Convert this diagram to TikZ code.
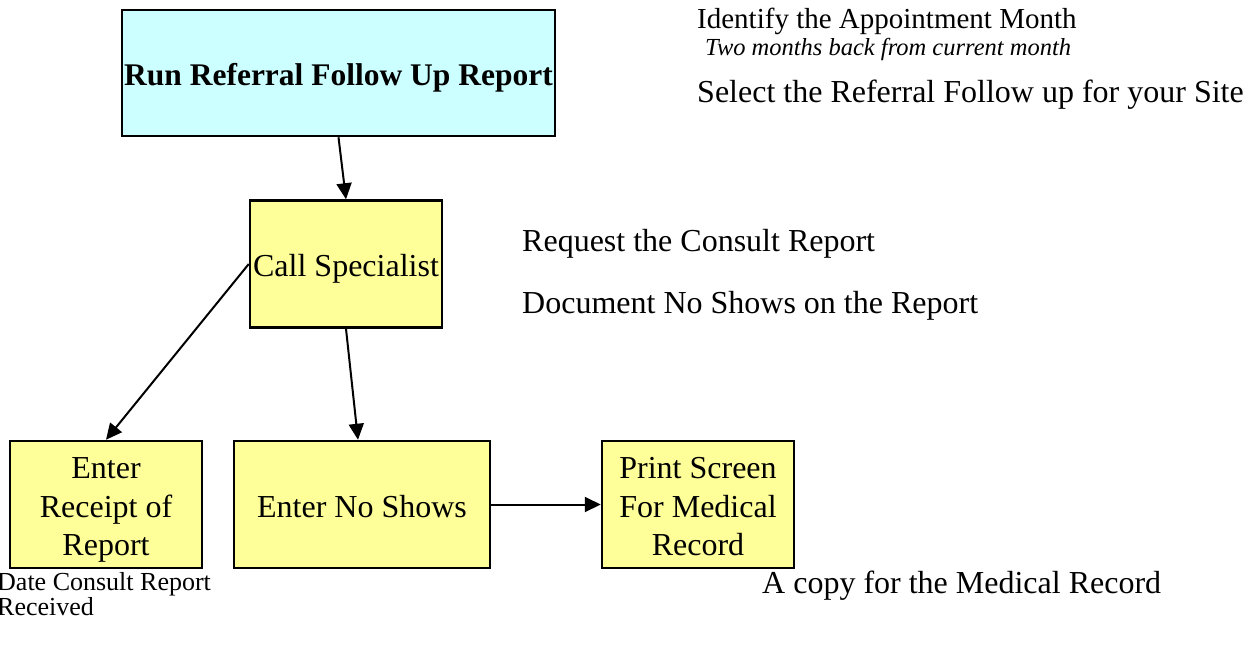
\documentclass[tikz,border=0pt]{standalone}
\usepackage{fontspec}
\setmainfont{Liberation Serif}
\usetikzlibrary{arrows.meta,positioning}
\definecolor{boxyellow}{HTML}{FFFF99}
\definecolor{boxcyan}{HTML}{CCFFFF}
\newcommand{\boxtop}{\rule{0pt}{1em}}
\newcommand{\boxbot}{\rule[-0.2em]{0pt}{0.2em}}
\tikzset{
    every node/.append style={font=\fontsize{32}{38.5}\selectfont},
    stepbox/.style={draw, line width=2.5pt, fill=boxyellow, minimum width=192pt,
        minimum height=127pt, inner sep=0pt, align=center},
    note/.style={anchor=base west, inner sep=0pt, font=\fontsize{32}{38}\selectfont},
    arr/.style={-{Triangle[length=16pt,width=15pt]}, line width=2pt}}

\begin{document}
\begin{tikzpicture}[x=1pt,y=-1pt]
    \useasboundingbox (0,0) rectangle (1252,653);

    % boxes
    \node[stepbox, fill=boxcyan, minimum width=433pt, minimum height=126pt,
        font=\bfseries\fontsize{31.5}{38}\selectfont] (run) at (338.5,73) {\boxtop\boxbot Run Referral Follow Up Report};
    \node[stepbox] (call) at (346,264) {\boxtop\boxbot Call Specialist};
    \node[stepbox] (receipt) at (106,504.5) {\boxtop Enter\\Receipt of\\Report\boxbot};
    \node[stepbox, minimum width=256pt] (noshow) at (362,504.5) {\boxtop\boxbot Enter No Shows};
    \node[stepbox] (print) at (698,504.5) {\boxtop Print Screen\\For Medical\\Record\boxbot};

    % notes
    \node[note, font=\fontsize{29}{35}\selectfont] (month) at (697,28) {Identify the Appointment Month};
    \node[note, font=\itshape\fontsize{24.5}{30}\selectfont] (back) at (705,55) {Two months back from current month};
    \node[note] (site) at (697,102.5) {Select the Referral Follow up for your Site};
    \node[note] (request) at (522,251.5) {Request the Consult Report};
    \node[note] (noshows) at (522,313.5) {Document No Shows on the Report};
    \node[note] (copy) at (762,593.5) {A copy for the Medical Record};
    \node[note, anchor=north west, align=left, font=\fontsize{26}{25}\selectfont] (date) at (-3,572) {Date Consult Report\\Received};

    \path[arr]
    (run.south) edge (call.north)
    (call.south) edge ([xshift=-4pt]noshow.north)
    (call.west) edge (receipt.north)
    (noshow.east) edge (print.west);
\end{tikzpicture}
\end{document}
